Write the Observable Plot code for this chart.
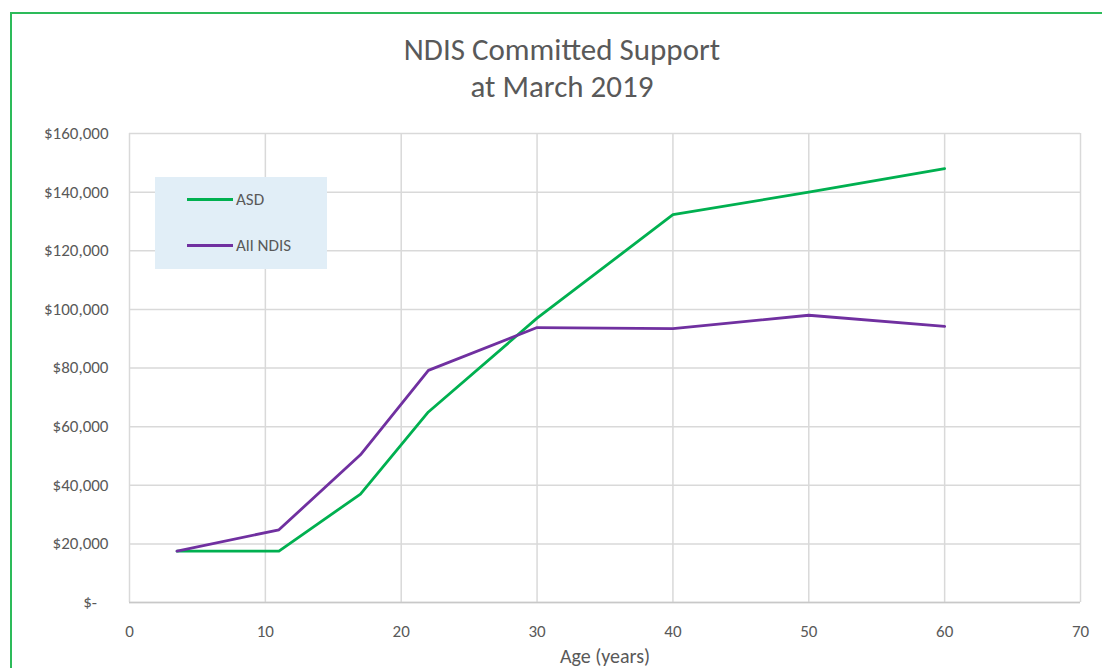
<!DOCTYPE html>
<html>
<head>
<meta charset="utf-8">
<script src="https://cdn.jsdelivr.net/npm/d3@7"></script>
<script src="https://cdn.jsdelivr.net/npm/@observablehq/plot@0.6"></script>
<style>
  html, body { margin: 0; padding: 0; background: #fff; overflow: hidden; }
  body { font-family: Carlito, Calibri, Lato, "Open Sans", sans-serif; color: #595959; }
  #wrap { position: relative; width: 1102px; height: 668px; overflow: hidden; }
  #frame { position: absolute; left: 10px; top: 12px; width: 1110px; height: 700px; border: 2px solid #2dbb5a; box-sizing: border-box; pointer-events: none; }
  #title { position: relative; height: 110px; width: 1124px; text-align: center; font-size: 31px; line-height: 37px; padding-top: 31px; box-sizing: border-box; color: #595959; }
  #legend { position: absolute; left: 155px; top: 177px; width: 172px; height: 92px; background: #e1eef7; }
  .li { position: absolute; left: 32px; font-size: 17px; color: #595959; display: flex; align-items: center; }
  .li span.sw { display: inline-block; width: 46px; height: 3px; margin-right: 3px; }
  #chart { position: absolute; left: 0; top: 110px; }
  #chart svg g[aria-label="y-axis tick label"] text, #chart svg g[aria-label="x-axis tick label"] text { font-size: 17px; fill: #595959; }
  #chart svg g[aria-label="x-axis label"] text { font-size: 20px; fill: #595959; }
</style>
</head>
<body>
<div id="wrap">
  <div id="title">NDIS Committed Support<br>at March 2019</div>
  <div id="chart"></div>
  <div id="legend"></div>
  <div id="frame"></div>
</div>
<script>
const seriesNames = ["ASD", "All NDIS"];
const seriesColors = ["#00b050", "#7030a0"];
const ages = [3.5, 11, 17, 22, 30, 40, 50, 60];
const asdValues = [17500, 17500, 37000, 65000, 97000, 132300, 140000, 148000];
const allNdisValues = [17500, 24800, 50400, 79200, 93800, 93400, 98000, 94200];
const xTicks = [0, 10, 20, 30, 40, 50, 60, 70];
const yTicks = [0, 20000, 40000, 60000, 80000, 100000, 120000, 140000, 160000];

const rows = [];
ages.forEach((a, i) => rows.push({age: a, value: asdValues[i], series: seriesNames[0]}));
ages.forEach((a, i) => rows.push({age: a, value: allNdisValues[i], series: seriesNames[1]}));

const fmt = d => d === 0 ? "$-\u00a0\u00a0\u00a0" : "$" + d3.format(",")(d);

const plot = Plot.plot({
  width: 1102,
  height: 558,
  marginLeft: 129,
  marginRight: 22,
  marginTop: 23,
  marginBottom: 66,
  style: {fontFamily: "Carlito, Calibri, Lato, 'Open Sans', sans-serif", fontSize: "17px", color: "#595959", background: "transparent"},
  x: {domain: [0, 70]},
  y: {domain: [0, 160000]},
  color: {domain: seriesNames, range: seriesColors},
  marks: [
    Plot.gridX(xTicks, {stroke: "#d9d9d9", strokeOpacity: 1, strokeWidth: 1.5}),
    Plot.gridY(yTicks, {stroke: "#d9d9d9", strokeOpacity: 1, strokeWidth: 1.5}),
    Plot.ruleY([0], {stroke: "#c8c8c8", strokeWidth: 1.5}),
    Plot.axisX(xTicks, {tickSize: 0, tickPadding: 22, fontSize: 17, label: "Age (years)", labelAnchor: "center", labelArrow: "none", labelOffset: 60, fill: "#595959"}),
    Plot.axisY(yTicks, {tickSize: 0, tickPadding: 21, fontSize: 17, tickFormat: fmt, label: null, fill: "#595959"}),
    Plot.line(rows, {x: "age", y: "value", z: "series", stroke: "series", strokeWidth: 2.8, strokeLinejoin: "round"})
  ]
});
document.getElementById("chart").appendChild(plot);

const legend = document.getElementById("legend");
seriesNames.forEach((name, i) => {
  const d = document.createElement("div");
  d.className = "li";
  d.style.top = (i === 0 ? 12 : 58) + "px";
  d.innerHTML = `<span class="sw" style="background:${seriesColors[i]}"></span>${name}`;
  legend.appendChild(d);
});
</script>
</body>
</html>
